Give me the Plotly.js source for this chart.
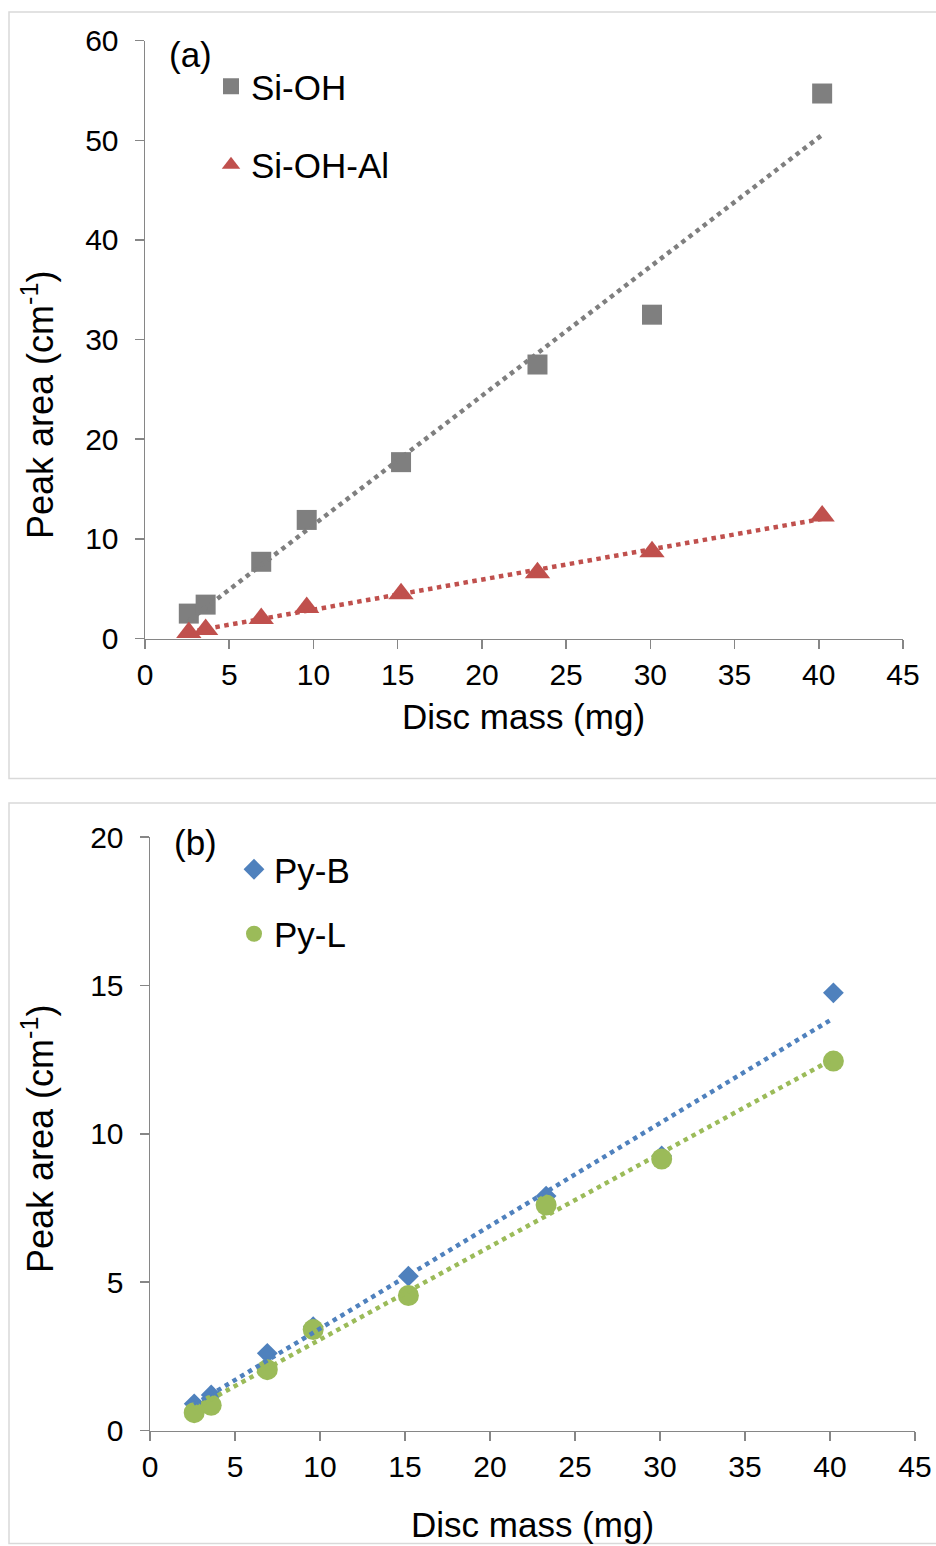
<!DOCTYPE html>
<html>
<head>
<meta charset="utf-8">
<script src="https://cdn.plot.ly/plotly-3.0.1.min.js"></script>
<style>
html,body{margin:0;padding:0;background:#fff;}
#chart{width:936px;height:1546px;}
</style>
</head>
<body>
<div id="chart"></div>
<script>
// ---- data ----
const discMass = [2.6, 3.6, 6.9, 9.6, 15.2, 23.3, 30.1, 40.2];
const siOH     = [2.5, 3.4, 7.7, 11.9, 17.7, 27.5, 32.5, 54.7];
const siOHAl   = [0.6, 0.9, 2.0, 3.1, 4.5, 6.6, 8.7, 12.3];
const pyB      = [0.9, 1.2, 2.6, 3.5, 5.2, 7.9, 9.25, 14.75];
const pyL      = [0.6, 0.85, 2.05, 3.4, 4.55, 7.6, 9.15, 12.45];
const seriesNamesA = ["Si-OH", "Si-OH-Al"];
const seriesNamesB = ["Py-B", "Py-L"];
const xTicks = [0, 5, 10, 15, 20, 25, 30, 35, 40, 45];
const yTicksA = [0, 10, 20, 30, 40, 50, 60];
const yTicksB = [0, 5, 10, 15, 20];

// ---- layout helpers (pixel -> paper) ----
const W = 936, H = 1546;
const px = v => v / W;
const py = v => 1 - v / H;

// linear least-squares trendline across the data's x-span
function trend(x, y) {
  const n = x.length;
  const mx = x.reduce((a, b) => a + b, 0) / n;
  const my = y.reduce((a, b) => a + b, 0) / n;
  let sxy = 0, sxx = 0;
  for (let i = 0; i < n; i++) { sxy += (x[i] - mx) * (y[i] - my); sxx += (x[i] - mx) ** 2; }
  const m = sxy / sxx, c = my - m * mx;
  const x0 = Math.min(...x), x1 = Math.max(...x);
  return { x: [x0, x1], y: [m * x0 + c, m * x1 + c] };
}

const grey = '#7f7f7f', red = '#c0504d', blue = '#4f81bd', green = '#9bbb59';
const dotLine = c => ({ color: c, width: 4.5, dash: '4.5px,4.5px' });

const tA1 = trend(discMass, siOH), tA2 = trend(discMass, siOHAl);
const tB1 = trend(discMass, pyB), tB2 = trend(discMass, pyL);

const traces = [
  { x: discMass, y: siOH, name: seriesNamesA[0], type: 'scatter', mode: 'markers', xaxis: 'x', yaxis: 'y',
    marker: { symbol: 'square', size: 20, color: grey }, legend: 'legend', legendgroup: 'a1', cliponaxis: false },
  { x: discMass, y: siOHAl, name: seriesNamesA[1], type: 'scatter', mode: 'markers', xaxis: 'x', yaxis: 'y',
    marker: { symbol: 'triangle-up', size: 22, color: red }, legend: 'legend', legendgroup: 'a2', cliponaxis: false },
  { x: tA1.x, y: tA1.y, type: 'scatter', mode: 'lines', xaxis: 'x', yaxis: 'y', line: dotLine(grey), showlegend: false, hoverinfo: 'skip' },
  { x: tA2.x, y: tA2.y, type: 'scatter', mode: 'lines', xaxis: 'x', yaxis: 'y', line: dotLine(red), showlegend: false, hoverinfo: 'skip' },

  { x: discMass, y: pyB, name: seriesNamesB[0], type: 'scatter', mode: 'markers', xaxis: 'x2', yaxis: 'y2',
    marker: { symbol: 'diamond', size: 16, color: blue }, legend: 'legend2', legendgroup: 'b1', cliponaxis: false },
  { x: discMass, y: pyL, name: seriesNamesB[1], type: 'scatter', mode: 'markers', xaxis: 'x2', yaxis: 'y2',
    marker: { symbol: 'circle', size: 21, color: green }, legend: 'legend2', legendgroup: 'b2', cliponaxis: false },
  { x: tB1.x, y: tB1.y, type: 'scatter', mode: 'lines', xaxis: 'x2', yaxis: 'y2', line: dotLine(blue), showlegend: false, hoverinfo: 'skip' },
  { x: tB2.x, y: tB2.y, type: 'scatter', mode: 'lines', xaxis: 'x2', yaxis: 'y2', line: dotLine(green), showlegend: false, hoverinfo: 'skip' }
];

const tickFont = { family: 'Liberation Sans, Arial, sans-serif', size: 30, color: '#000' };
const axisCommon = {
  showline: true, linecolor: '#868686', linewidth: 1.5,
  ticks: 'outside', ticklen: 9, tickwidth: 1.5, tickcolor: '#868686',
  showgrid: false, zeroline: false, tickfont: tickFont, fixedrange: true
};

const titleFont = { family: 'Liberation Sans, Arial, sans-serif', size: 35, color: '#000' };
const legendFont = { family: 'Liberation Sans, Arial, sans-serif', size: 35, color: '#000' };

const layout = {
  width: W, height: H,
  margin: { l: 0, r: 0, t: 0, b: 0 },
  paper_bgcolor: '#fff', plot_bgcolor: 'rgba(0,0,0,0)',
  showlegend: true,
  xaxis: Object.assign({}, axisCommon, { domain: [px(145), px(903)], range: [0, 45], tickvals: xTicks, anchor: 'y' }),
  yaxis: Object.assign({}, axisCommon, { domain: [py(638.5), py(40.7)], range: [0, 60], tickvals: yTicksA, anchor: 'x', ticklabelstandoff: 10 }),
  xaxis2: Object.assign({}, axisCommon, { domain: [px(150), px(915)], range: [0, 45], tickvals: xTicks, anchor: 'y2' }),
  yaxis2: Object.assign({}, axisCommon, { domain: [py(1430.5), py(837)], range: [0, 20], tickvals: yTicksB, anchor: 'x2', ticklabelstandoff: 10 }),
  legend: { x: px(211), y: py(57), xanchor: 'left', yanchor: 'top', bgcolor: 'rgba(0,0,0,0)',
            font: legendFont, tracegroupgap: 30 },
  legend2: { x: px(234), y: py(840), xanchor: 'left', yanchor: 'top', bgcolor: 'rgba(0,0,0,0)',
            font: legendFont, tracegroupgap: 16 },
  shapes: [
    { type: 'rect', xref: 'paper', yref: 'paper', x0: px(9), x1: px(940), y0: py(778.5), y1: py(12),
      line: { color: '#d9d9d9', width: 1.5 }, fillcolor: 'rgba(0,0,0,0)', layer: 'below' },
    { type: 'rect', xref: 'paper', yref: 'paper', x0: px(9), x1: px(940), y0: py(1543.5), y1: py(803),
      line: { color: '#d9d9d9', width: 1.5 }, fillcolor: 'rgba(0,0,0,0)', layer: 'below' }
  ],
  annotations: [
    { text: '(a)', xref: 'paper', yref: 'paper', x: px(190), y: py(54), xanchor: 'center', yanchor: 'middle', showarrow: false, font: titleFont },
    { text: '(b)', xref: 'paper', yref: 'paper', x: px(195), y: py(842), xanchor: 'center', yanchor: 'middle', showarrow: false, font: titleFont },
    { text: 'Disc mass (mg)', xref: 'paper', yref: 'paper', x: px(523), y: py(717), xanchor: 'center', yanchor: 'middle', showarrow: false, font: titleFont },
    { text: 'Disc mass (mg)', xref: 'paper', yref: 'paper', x: px(532), y: py(1524), xanchor: 'center', yanchor: 'middle', showarrow: false, font: titleFont },
    { text: 'Peak area (cm<sup>-1</sup>)', xref: 'paper', yref: 'paper', x: px(38), y: py(405), xanchor: 'center', yanchor: 'middle', textangle: -90, showarrow: false, font: { family: titleFont.family, size: 36, color: '#000' } },
    { text: 'Peak area (cm<sup>-1</sup>)', xref: 'paper', yref: 'paper', x: px(38), y: py(1139), xanchor: 'center', yanchor: 'middle', textangle: -90, showarrow: false, font: { family: titleFont.family, size: 36, color: '#000' } }
  ]
};

Plotly.newPlot('chart', traces, layout, { displayModeBar: false, staticPlot: true });
</script>
</body>
</html>
